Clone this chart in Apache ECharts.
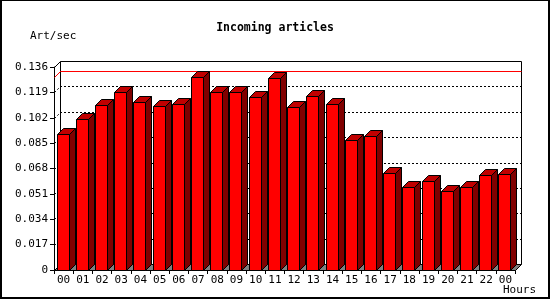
<!DOCTYPE html>
<html><head><meta charset="utf-8">
<script src="https://cdn.jsdelivr.net/npm/echarts@6/dist/echarts.min.js"></script>
<style>html,body{margin:0;padding:0;background:#fff}#c{width:550px;height:300px}</style>
</head><body><div id="c"></div>
<script>
const titleText = 'Incoming articles';
const yName = 'Art/sec';
const xName = 'Hours';
const hours = ['00','01','02','03','04','05','06','07','08','09','10','11','12','13','14','15','16','17','18','19','20','21','22','00'];
const artPerSec = [0.0909,0.1012,0.1103,0.1190,0.1123,0.1097,0.1110,0.1291,0.1190,0.1190,0.1157,0.1284,0.1090,0.1164,0.1110,0.0869,0.0896,0.0648,0.0554,0.0594,0.0527,0.0554,0.0634,0.0641];
const yMin = 0, yMax = 0.136, yStep = 0.017;
const gridLevels = [0.017,0.034,0.051,0.068,0.085,0.102,0.119];

const FONT = 'DejaVu Sans Mono';
const D = 6;
const maxVal = Math.max.apply(null, artPerSec);
const px = v => Math.round(v) + 0.5;

function renderFrame(params, api) {
  const cs = params.coordSys;
  const L = px(cs.x), R = px(cs.x + cs.width), T = px(cs.y), B = px(cs.y + cs.height);
  const kids = [];
  kids.push({type:'polygon', shape:{points:[[L,B],[L+D,B-D],[R+D,B-D],[R,B]]}, style:{fill:'#808080', stroke:'#000', lineWidth:1}});
  kids.push({type:'polyline', shape:{points:[[L+D,B-D],[L+D,T-D],[R+D,T-D],[R+D,B-D]]}, style:{fill:null, stroke:'#000', lineWidth:1}});
  kids.push({type:'line', shape:{x1:L,y1:T,x2:L+D,y2:T-D}, style:{stroke:'#000', lineWidth:1}});
  gridLevels.forEach(v => {
    const y = px(api.coord([0, v])[1]);
    kids.push({type:'polyline', shape:{points:[[L,y],[L+D,y-D],[R+D,y-D]]}, style:{fill:null, stroke:'#000', lineWidth:1, lineDash:[2,2]}});
  });
  return {type:'group', children:kids};
}

function renderMax(params, api) {
  const cs = params.coordSys;
  const L = px(cs.x), R = px(cs.x + cs.width);
  const ym = px(api.coord([0, api.value(1)])[1]);
  return {type:'polyline', shape:{points:[[L,ym],[L+D,ym-D],[R+D,ym-D]]}, style:{fill:null, stroke:'#ff0000', lineWidth:1}};
}

function renderBar(params, api) {
  const i = api.value(0), v = api.value(1);
  const top = api.coord([i, v]), base = api.coord([i, 0]);
  const band = api.size([1, 0])[0];
  const x0 = px(top[0] - band * 0.365);
  const x1 = x0 + Math.round(band * 0.6);
  const yT = px(top[1]), yB = px(base[1]);
  const st = {stroke:'#000', lineWidth:1};
  return {type:'group', children:[
    {type:'polygon', shape:{points:[[x1,yT],[x1+D,yT-D],[x1+D,yB-D],[x1,yB]]}, style:Object.assign({fill:'#800000'}, st)},
    {type:'polygon', shape:{points:[[x0,yT],[x0+D,yT-D],[x1+D,yT-D],[x1,yT]]}, style:Object.assign({fill:'#c00000'}, st)},
    {type:'rect', shape:{x:x0, y:yT, width:x1-x0, height:yB-yT}, style:Object.assign({fill:'#ff0000'}, st)}
  ]};
}

const chart = echarts.init(document.getElementById('c'), null, {renderer:'canvas'});
chart.setOption({
  animation:false,
  backgroundColor:'#ffffff',
  title:[
    {text:titleText, left:'center', top:22, padding:0, textStyle:{fontFamily:FONT, fontSize:11.5, fontWeight:'bold', color:'#000'}},
    {text:yName, left:30, top:31, padding:0, textStyle:{fontFamily:FONT, fontSize:11, fontWeight:'normal', color:'#000'}},
    {text:xName, left:503, top:285, padding:0, textStyle:{fontFamily:FONT, fontSize:11, fontWeight:'normal', color:'#000'}}
  ],
  graphic:[{type:'rect', shape:{x:1, y:0, width:548, height:298}, style:{fill:null, stroke:'#000', lineWidth:2}, z:100}],
  grid:{left:54, top:67, width:461, height:203, containLabel:false},
  xAxis:{
    type:'category', data:hours, boundaryGap:true,
    axisLine:{show:true, lineStyle:{color:'#000', width:1}},
    axisTick:{show:true, length:4, alignWithLabel:false, lineStyle:{color:'#000'}},
    axisLabel:{fontFamily:FONT, fontSize:11, color:'#000', margin:5, interval:0},
    splitLine:{show:false}
  },
  yAxis:{
    type:'value', min:yMin, max:yMax, interval:yStep,
    axisLine:{show:true, lineStyle:{color:'#000', width:1}},
    axisTick:{show:true, length:4, lineStyle:{color:'#000'}},
    axisLabel:{fontFamily:FONT, fontSize:11, color:'#000', margin:6,
      formatter: v => (Math.abs(v) < 1e-9 ? '0' : v.toFixed(3))},
    splitLine:{show:false}
  },
  series:[
    {type:'custom', z:1, renderItem:renderFrame, data:[[0, 0]], encode:{x:0, y:1}, silent:true},
    {type:'custom', z:1, renderItem:renderMax, data:[[0, maxVal]], encode:{x:0, y:1}, silent:true, itemStyle:{color:'#ff0000'}},
    {type:'custom', z:2, renderItem:renderBar, data:artPerSec.map((v, i) => [i, v]), encode:{x:0, y:1}}
  ]
});
</script>
</body></html>
